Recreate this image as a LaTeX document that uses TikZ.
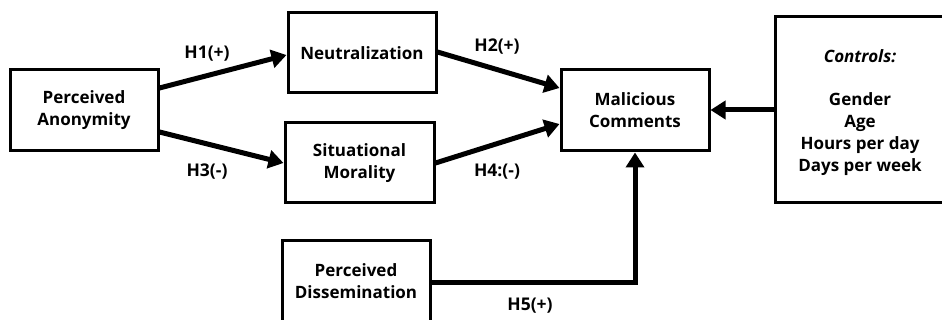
\documentclass[tikz,border=0pt]{standalone}
\usepackage{fontspec}
\setmainfont{Open Sans}
\usetikzlibrary{arrows.meta}
\begin{document}
\begin{tikzpicture}[x=1pt,y=-1pt,
  box/.style={draw=black, line width=3pt, align=center, font=\bfseries\fontsize{17}{22}\selectfont, inner sep=0pt},
  conn/.style={line width=5pt, -{Triangle[length=15pt,width=18pt]}},
  lab/.style={font=\bfseries\fontsize{17.5}{20}\selectfont}]
\clip (0,0) rectangle (942,320);
\useasboundingbox (0,0) rectangle (942,320);
\node[box, minimum width=148pt, minimum height=81pt] (pa) at (84,110.5) {Perceived\\Anonymity};
\node[box, minimum width=148pt, minimum height=80pt] (ne) at (362,53) {Neutralization};
\node[box, minimum width=149pt, minimum height=80pt] (sm) at (359.5,163) {Situational\\Morality};
\node[box, minimum width=148pt, minimum height=81pt] (pd) at (356,281) {Perceived\\Dissemination};
\node[box, minimum width=148pt, minimum height=81pt] (mc) at (635,110.5) {Malicious\\Comments};
\node[box, minimum width=170pt, minimum height=186pt] (co) at (860,110) {};
\node[font=\bfseries\fontsize{17}{22}\selectfont, align=center, inner sep=0pt] (cot) at (860,113) {\textit{Controls:}\\[21pt]Gender\\Age\\Hours per day\\Days per week};
\draw[conn] (pa.east |- 0,88) -- (ne.west |- 0,55);
\draw[conn] (pa.east |- 0,132) -- (sm.west |- 0,163);
\draw[conn] (ne.east |- 0,52) -- (mc.west |- 0,88);
\draw[conn] (sm.east |- 0,163) -- (mc.west |- 0,124);
\draw[conn] (co.west |- 0,110) -- (mc.east |- 0,110);
\draw[conn] (pd.east |- 0,283) -| (mc.south);
\node[lab] (h1) at (207,54) {H1(+)};
\node[lab] (h3) at (207,172) {H3(-)};
\node[lab] (h2) at (497,47) {H2(+)};
\node[lab] (h4) at (497,172) {H4:(-)};
\node[lab] (h5) at (530,306) {H5(+)};
\end{tikzpicture}
\end{document}
